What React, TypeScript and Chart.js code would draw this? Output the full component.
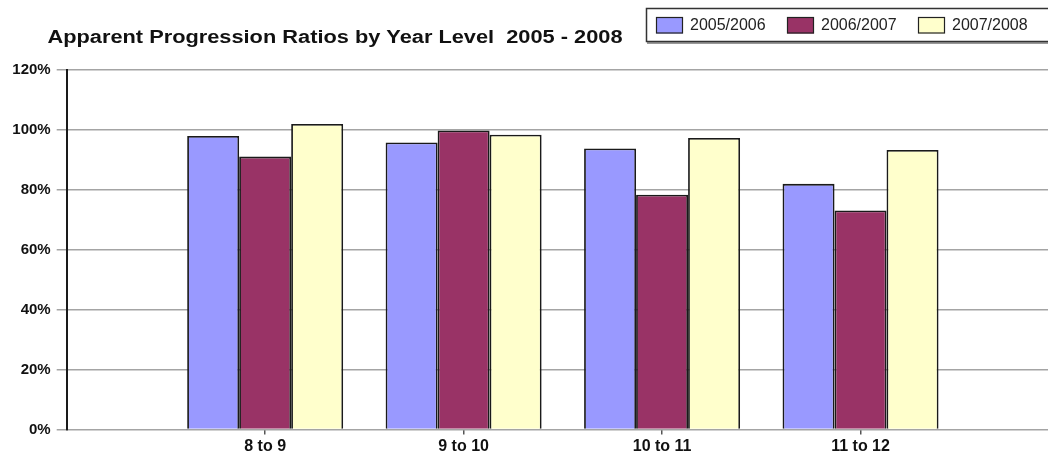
import React, { useEffect, useRef } from "react";
import { Chart, registerables } from "chart.js";

Chart.register(...registerables);

const TITLE = "Apparent Progression Ratios by Year Level  2005 - 2008";
const categories = ["8 to 9", "9 to 10", "10 to 11", "11 to 12"];
const seriesNames = ["2005/2006", "2006/2007", "2007/2008"];
const ratios0506 = [98, 95.8, 93.8, 82];
const ratios0607 = [91.1, 99.8, 78.4, 73.1];
const ratios0708 = [102, 98.4, 97.3, 93.3];
const seriesColors = ["#9999FF", "#993366", "#FFFFCC"];
const yMin = 0;
const yMax = 120;
const yStep = 20;

const FONT = '"Liberation Sans", Arial, sans-serif';

const overlayPlugin = {
  id: "overlay",
  afterDraw(chart: any) {
    const ctx = chart.ctx as CanvasRenderingContext2D;
    // title (horizontally stretched like the reference)
    ctx.save();
    ctx.fillStyle = "#111";
    ctx.font = `bold 18px ${FONT}`;
    ctx.textBaseline = "alphabetic";
    ctx.translate(47.5, 42.5);
    const w = ctx.measureText(TITLE).width;
    ctx.scale(575 / w, 1);
    ctx.fillText(TITLE, 0, 0);
    ctx.restore();

    // legend box
    ctx.save();
    ctx.fillStyle = "#fff";
    ctx.fillRect(646, 8, 430, 34);
    ctx.strokeStyle = "#333";
    ctx.lineWidth = 1.5;
    ctx.strokeRect(646.5, 8.5, 430, 33);
    ctx.lineWidth = 1;
    ctx.beginPath();
    ctx.moveTo(647, 43);
    ctx.lineTo(1080, 43);
    ctx.stroke();
    ctx.font = `16px ${FONT}`;
    ctx.textBaseline = "middle";
    ctx.textAlign = "left";
    chart.data.datasets.forEach((ds: any, i: number) => {
      const x = 656 + i * 131;
      ctx.fillStyle = ds.backgroundColor;
      ctx.fillRect(x, 17.5, 27, 16);
      ctx.strokeStyle = "#222";
      ctx.lineWidth = 1.2;
      ctx.strokeRect(x + 0.5, 17.5, 26, 15.5);
      ctx.fillStyle = "#222";
      ctx.fillText(ds.label, x + 34, 25.5);
    });
    ctx.restore();
  },
};

export default function App() {
  const ref = useRef<HTMLCanvasElement>(null);
  useEffect(() => {
    if (!ref.current) return;
    const labels = ["", ...categories, ""];
    const pad = (arr: number[]) => [null, ...arr, null];
    const seriesValues = [ratios0506, ratios0607, ratios0708];
    const chart = new Chart(ref.current, {
      type: "bar",
      data: {
        labels,
        datasets: seriesNames.map((name, i) => ({
          label: name,
          data: pad(seriesValues[i]),
          backgroundColor: seriesColors[i],
          borderColor: "#1a1a1a",
          borderWidth: 1.8,
          barPercentage: 1,
          categoryPercentage: 0.786,
        })),
      },
      options: {
        animation: false,
        responsive: false,
        maintainAspectRatio: false,
        layout: { padding: { top: 70, right: 11, left: 0, bottom: 0 } },
        plugins: {
          legend: { display: false },
          title: { display: false },
          tooltip: { enabled: false },
        },
        scales: {
          x: {
            offset: false,
            grid: {
              offset: false,
              drawOnChartArea: false,
              drawTicks: true,
              tickLength: 5,
              color: (c: any) => (c.index === 0 ? "rgba(0,0,0,0)" : "#555"),
              lineWidth: 1.5,
            },
            border: { display: false },
            ticks: {
              autoSkip: false,
              maxRotation: 0,
              padding: 2,
              color: "#111",
              font: { family: FONT, size: 16, weight: "bold" },
            },
            afterFit(scale: any) {
              scale.height = 22.5;
            },
          },
          y: {
            min: yMin,
            max: yMax,
            grid: {
              color: "#a4a4a4",
              lineWidth: 1.5,
              tickLength: 10,
            },
            border: { display: true, color: "#1a1a1a", width: 2 },
            ticks: {
              stepSize: yStep,
              padding: 6,
              color: "#111",
              font: { family: FONT, size: 15, weight: "bold" },
              callback: (v: any) => `${v}%`,
            },
            afterFit(scale: any) {
              scale.width = 66.7;
            },
          },
        },
      },
      plugins: [overlayPlugin],
    });
    return () => chart.destroy();
  }, []);

  return (
    <div
      style={{
        position: "fixed",
        left: 0,
        top: 0,
        width: 1048,
        height: 452,
        overflow: "hidden",
        background: "#fff",
      }}
    >
      <canvas
        ref={ref}
        width={1070}
        height={452}
        style={{ width: 1070, height: 452, display: "block" }}
      />
    </div>
  );
}
